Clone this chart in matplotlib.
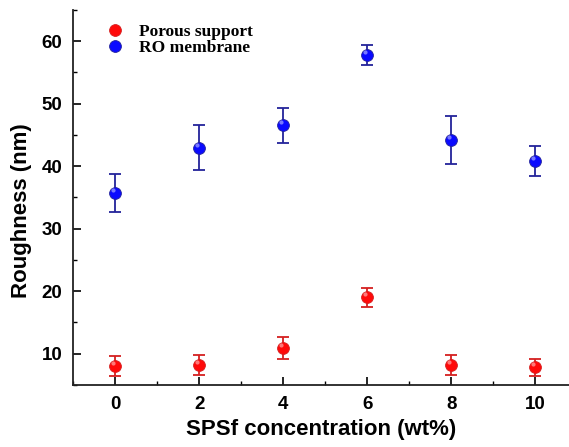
import matplotlib

matplotlib.use("Agg")
import matplotlib.pyplot as plt
from matplotlib.ticker import MultipleLocator

conc = [0, 2, 4, 6, 8, 10]
porous = [8.0, 8.2, 10.9, 19.0, 8.2, 7.8]
porous_err = [1.6, 1.65, 1.7, 1.5, 1.6, 1.35]
ro = [35.7, 42.9, 46.5, 57.8, 44.2, 40.8]
ro_err = [3.0, 3.6, 2.8, 1.6, 3.8, 2.35]

plt.rcParams["font.family"] = ["Liberation Sans", "DejaVu Sans"]

fig = plt.figure(figsize=(5.69, 4.47), dpi=100)
ax = fig.add_axes([0.129, 0.139, 0.871, 0.839])

series = [
    ("Porous support", porous, porous_err, "#ff0a0a", "#d42020"),
    ("RO membrane", ro, ro_err, "#0a0aff", "#23239a"),
]
for label, vals, errs, face, line in series:
    ax.errorbar(
        conc, vals, yerr=errs, fmt="none", ecolor=line,
        elinewidth=1.3, capsize=4, capthick=1.3, zorder=2,
    )
    ax.plot(
        conc, vals, "o", markersize=8.5, markerfacecolor=face,
        markeredgecolor=line, markeredgewidth=0.6, label=label, zorder=3,
    )
    # small highlight to mimic the shaded spheres
    ax.plot(
        [c - 0.05 for c in conc], [v + 0.5 for v in vals], "o",
        markersize=3, color="white", alpha=0.45, markeredgewidth=0, zorder=4,
    )

ax.set_xlim(-1, 10.8)
ax.set_ylim(5, 65)
ax.set_xticks(conc)
ax.set_yticks([10, 20, 30, 40, 50, 60])
ax.xaxis.set_minor_locator(MultipleLocator(1))
ax.yaxis.set_minor_locator(MultipleLocator(5))
ax.tick_params(which="major", direction="in", length=6, width=1.2, labelsize=13.5, pad=8)
ax.tick_params(which="minor", direction="in", length=3, width=1.0)
for lab in ax.get_xticklabels() + ax.get_yticklabels():
    lab.set_fontweight("bold")

for side in ("top", "right"):
    ax.spines[side].set_visible(False)
for side in ("left", "bottom"):
    ax.spines[side].set_linewidth(1.3)
    ax.spines[side].set_color("#222222")

ax.set_xlabel("SPSf concentration (wt%)", fontsize=16, fontweight="bold")
ax.set_ylabel("Roughness (nm)", fontsize=16, fontweight="bold")
ax.xaxis.set_label_coords(0.5, -0.09)
ax.yaxis.set_label_coords(-0.083, 0.464)

ax.legend(
    loc="upper left", bbox_to_anchor=(0.035, 1.005), frameon=False,
    handletextpad=0.9, labelspacing=0.0, handlelength=1.0,
    prop={"family": "Liberation Serif", "weight": "bold", "size": 12.5},
)

fig.savefig("out.png", dpi=100)
